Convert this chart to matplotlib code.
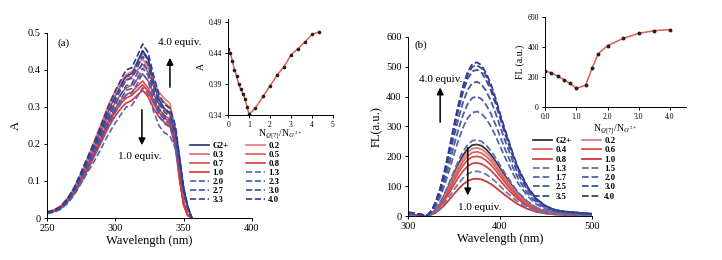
import matplotlib
matplotlib.use("Agg")
import matplotlib.pyplot as plt

plt.rcParams['font.family'] = 'Liberation Serif'
plt.rcParams['mathtext.fontset'] = 'stix'

# ---------------- data ----------------
# (a) absorption spectra, relative profiles (peak = 1)
abs_wl = [250, 255, 260, 265, 270, 275, 280, 285, 290, 295, 300, 305, 308, 312,
          316, 320, 324, 328, 332, 336, 340, 344, 347, 350, 353, 356]
abs_prof_blue = [0.033, 0.044, 0.066, 0.11, 0.177, 0.265, 0.354, 0.442, 0.542, 0.642,
                 0.73, 0.808, 0.852, 0.863, 0.929, 1.0, 0.951, 0.819, 0.708, 0.653,
                 0.63, 0.531, 0.354, 0.177, 0.066, 0.0]
abs_prof_red = [0.04, 0.05, 0.075, 0.125, 0.19, 0.28, 0.38, 0.49, 0.6, 0.71,
                0.80, 0.87, 0.9, 0.92, 0.96, 1.0, 0.95, 0.86, 0.79, 0.75,
                0.72, 0.55, 0.3, 0.1, 0.02, 0.0]
abs_labels = ['G2+', '0.2', '0.3', '0.5', '0.7', '0.8', '1.0',
              '1.3', '2.0', '2.3', '2.7', '3.0', '3.3', '4.0']
abs_peaks = [0.452, 0.43, 0.415, 0.39, 0.37, 0.36, 0.345,
             0.352, 0.39, 0.405, 0.42, 0.437, 0.448, 0.47]

# (a) inset
abs_n = [0, 0.1, 0.2, 0.3, 0.4, 0.5, 0.6, 0.7, 0.8, 0.9, 1.0,
         1.3, 1.67, 2.0, 2.33, 2.67, 3.0, 3.33, 3.67, 4.0, 4.33]
abs_a = [0.447, 0.44, 0.427, 0.413, 0.403, 0.39, 0.382, 0.374, 0.366, 0.353, 0.341,
         0.351, 0.37, 0.387, 0.404, 0.418, 0.437, 0.447, 0.458, 0.47, 0.474]

# (b) fluorescence spectra, relative profile (peak = 1)
fl_wl = [300, 305, 310, 315, 318, 322, 326, 330, 335, 340, 345, 350, 355, 360, 365,
         370, 375, 380, 385, 390, 395, 400, 405, 410, 415, 420, 425, 430, 440, 450,
         460, 470, 480, 490, 500]
fl_prof = [0.025, 0.02, 0.015, 0.01, 0.0, 0.01, 0.04, 0.09, 0.18, 0.30, 0.44, 0.59,
           0.73, 0.85, 0.94, 0.99, 1.0, 0.98, 0.93, 0.86, 0.77, 0.67, 0.57, 0.48,
           0.39, 0.31, 0.25, 0.19, 0.11, 0.065, 0.04, 0.03, 0.025, 0.02, 0.015]
fl_labels = ['G2+', '0.2', '0.4', '0.6', '0.8', '1.0',
             '1.3', '1.5', '1.7', '2.0', '2.5', '3.0', '3.5', '4.0']
fl_peaks = [240, 228, 215, 200, 178, 125,
            150, 255, 350, 400, 450, 490, 505, 515]

# (b) inset
fl_n = [0, 0.2, 0.4, 0.6, 0.8, 1.0, 1.3, 1.5, 1.7, 2.0, 2.5, 3.0, 3.5, 4.0]
fl_i = [242, 228, 207, 183, 158, 125, 147, 258, 355, 410, 458, 492, 510, 517]

abs_colors = ['#1f2d6e', '#e07a7a', '#dc6868', '#d85858', '#d84848', '#dc3a3a', '#e63030',
              '#5565b5', '#4f5fb0', '#4a58a8', '#4452a0', '#3e4b98', '#384590', '#2f3b88']
fl_colors = ['#333333', '#e27a7a', '#dc6464', '#d65252', '#d04444', '#cc3838',
             '#6a78b8', '#5f6db2', '#5664ac', '#4e5ca6', '#4654a0', '#3f4c9a', '#384594', '#313e8e']

tick_fs = 7.5
fig = plt.figure(figsize=(7.22, 2.6), dpi=100)


def style(ax, fs):
    for s in ['top', 'right']:
        ax.spines[s].set_visible(False)
    for s in ['left', 'bottom']:
        ax.spines[s].set_linewidth(0.7)
    ax.tick_params(labelsize=fs, length=2.5, width=0.7, direction='out', pad=2)


arrow = dict(arrowstyle='-|>', color='black', lw=1.1, mutation_scale=10)

# ---------------- panel (a) ----------------
ax1 = fig.add_axes([0.065, 0.1615, 0.284, 0.712])
handles = []
for i, (lab, pk) in enumerate(zip(abs_labels, abs_peaks)):
    prof = abs_prof_red if 1 <= i <= 6 else abs_prof_blue
    ls = '-' if i <= 6 else '--'
    h, = ax1.plot(abs_wl, [pk * p for p in prof], color=abs_colors[i], lw=1.2, ls=ls, label=lab)
    handles.append(h)
ax1.set_xlim(250, 400)
ax1.set_ylim(0, 0.5)
ax1.set_xticks([250, 300, 350, 400])
ax1.set_yticks([0, 0.1, 0.2, 0.3, 0.4, 0.5])
ax1.set_yticklabels(['0', '0.1', '0.2', '0.3', '0.4', '0.5'])
style(ax1, tick_fs)
ax1.set_xlabel('Wavelength (nm)', fontsize=9, labelpad=1)
ax1.set_ylabel('A', fontsize=9, labelpad=4)
ax1.text(258, 0.473, '(a)', fontsize=8, va='center')
ax1.text(331, 0.473, '4.0 equiv.', fontsize=8, va='center')
ax1.annotate('', xy=(340, 0.44), xytext=(340, 0.346), arrowprops=arrow)
ax1.annotate('', xy=(319.5, 0.189), xytext=(319.5, 0.30), arrowprops=arrow)
ax1.text(318, 0.165, '1.0 equiv.', fontsize=8, ha='center', va='center')

order = handles[0::2] + handles[1::2]
fig.legend(order, [h.get_label() for h in order], ncol=2, frameon=False,
           loc='upper left', bbox_to_anchor=(190 / 722, (260 - 142) / 260),
           prop={'family': 'Liberation Serif', 'weight': 'bold', 'size': 6.3},
           handlelength=2.2, handletextpad=0.35, columnspacing=2.0,
           labelspacing=0.1, borderpad=0, borderaxespad=0)

# inset (a)
axi1 = fig.add_axes([0.316, 0.558, 0.145, 0.369])
axi1.plot(abs_n, abs_a, color='#e0604e', lw=1.1, marker='o', ms=1.6,
          mfc='#222222', mec='#222222')
axi1.set_xlim(0, 5)
axi1.set_ylim(0.34, 0.495)
axi1.set_xticks([0, 1, 2, 3, 4, 5])
axi1.set_yticks([0.34, 0.39, 0.44, 0.49])
style(axi1, 5.5)
axi1.set_ylabel('A', fontsize=7, labelpad=2)
axi1.set_xlabel('N$_{Q[7]}$/N$_{G^{2+}}$', fontsize=7, labelpad=-1)

# ---------------- panel (b) ----------------
ax2 = fig.add_axes([0.565, 0.169, 0.255, 0.689])
handles2 = []
for i, (lab, pk) in enumerate(zip(fl_labels, fl_peaks)):
    ls = '-' if i <= 5 else '--'
    h, = ax2.plot(fl_wl, [pk * p for p in fl_prof], color=fl_colors[i], lw=1.3, ls=ls, label=lab)
    handles2.append(h)
ax2.set_xlim(300, 500)
ax2.set_ylim(0, 600)
ax2.set_xticks([300, 400, 500])
ax2.set_yticks([0, 100, 200, 300, 400, 500, 600])
style(ax2, tick_fs)
ax2.set_xlabel('Wavelength (nm)', fontsize=9, labelpad=1)
ax2.set_ylabel('FL(a.u.)', fontsize=9, labelpad=2)
ax2.text(307, 573, '(b)', fontsize=8, va='center')
ax2.text(336, 458, '4.0 equiv.', fontsize=8, ha='center', va='center')
ax2.annotate('', xy=(335, 440), xytext=(335, 305), arrowprops=arrow)
ax2.annotate('', xy=(365, 60), xytext=(365, 238), arrowprops=arrow)
ax2.text(378, 30, '1.0 equiv.', fontsize=8, ha='center', va='center')

order2 = handles2[0::2] + handles2[1::2]
fig.legend(order2, [h.get_label() for h in order2], ncol=2, frameon=False,
           loc='upper left', bbox_to_anchor=(533 / 722, (260 - 137) / 260),
           prop={'family': 'Liberation Serif', 'weight': 'bold', 'size': 6.3},
           handlelength=2.2, handletextpad=0.35, columnspacing=1.2,
           labelspacing=0.13, borderpad=0, borderaxespad=0)

# inset (b)
axi2 = fig.add_axes([0.755, 0.588, 0.1946, 0.346])
axi2.plot(fl_n, fl_i, color='#e0604e', lw=1.1, marker='o', ms=1.8,
          mfc='#222222', mec='#222222')
axi2.set_xlim(0, 4.5)
axi2.set_ylim(0, 600)
axi2.set_xticks([0, 1, 2, 3, 4])
axi2.set_xticklabels(['0.0', '1.0', '2.0', '3.0', '4.0'])
axi2.set_yticks([0, 200, 400, 600])
style(axi2, 5.5)
axi2.set_ylabel('FL (a.u.)', fontsize=7, labelpad=2)
axi2.set_xlabel('N$_{Q[7]}$/N$_{G^{2+}}$', fontsize=7, labelpad=1)

fig.savefig('out.png', dpi=100)
